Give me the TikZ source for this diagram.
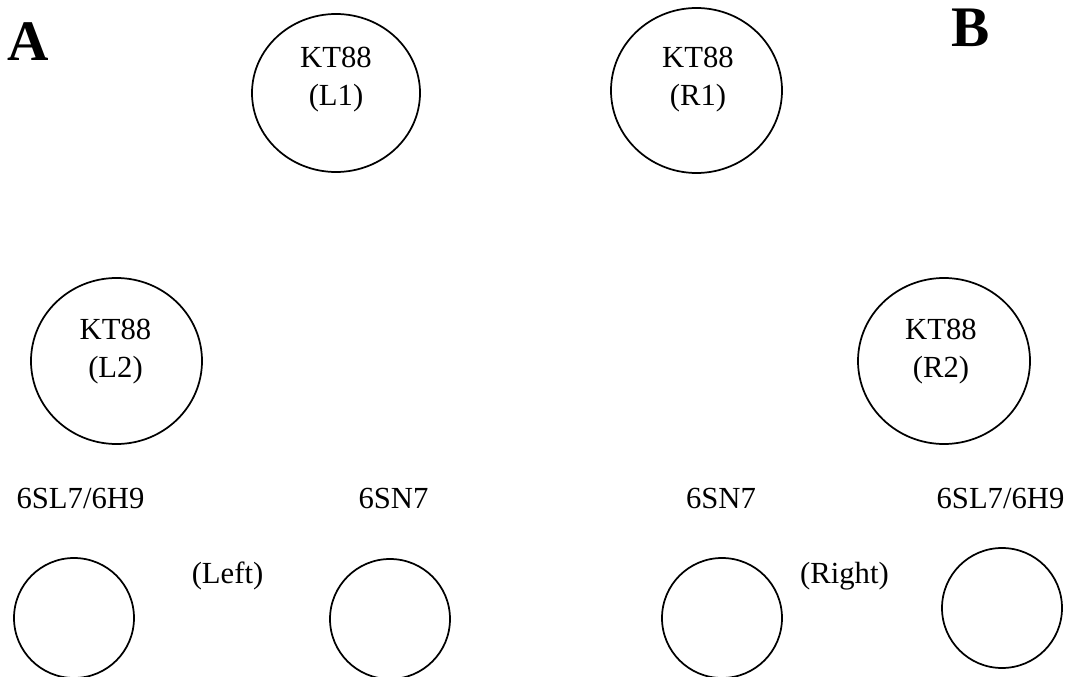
\documentclass[tikz,border=0pt]{standalone}
\usepackage{fontspec}
\setmainfont{Liberation Serif}
\usepackage{tikz}
\usetikzlibrary{shapes.geometric}
\tikzstyle{bigtube}=[draw,ellipse,line width=1.3pt,inner sep=0,outer sep=0]
\tikzstyle{smalltube}=[draw,circle,line width=1.3pt,inner sep=0,outer sep=0,minimum size=90pt]
\tikzstyle{tubename}=[align=center,inner sep=0,font=\fontsize{23}{29}\selectfont]
\tikzstyle{tubetype}=[anchor=base,inner sep=0,font=\fontsize{23}{29}\selectfont]
\tikzstyle{side}=[anchor=base,inner sep=0,font=\fontsize{43}{50}\selectfont\bfseries]

\begin{document}
\begin{tikzpicture}[x=0.75pt,y=-0.75pt]
	\useasboundingbox (0,0) rectangle (1070,677);

	% power tubes
	\node[bigtube,minimum width=126pt,minimum height=118.5pt] (l1) at (336,93) {};
	\node[bigtube,minimum width=128.25pt,minimum height=123.75pt] (r1) at (696.5,90.5) {};
	\node[bigtube,minimum width=128.25pt,minimum height=124.5pt] (l2) at (116.5,361) {};
	\node[bigtube,minimum width=129pt,minimum height=124.5pt] (r2) at (944,361) {};

	\node[tubename] (l1name) at (336,79.5) {KT88\\(L1)};
	\node[tubename] (r1name) at (698,79.5) {KT88\\(R1)};
	\node[tubename] (l2name) at (115.5,351.5) {KT88\\(L2)};
	\node[tubename] (r2name) at (941,351.5) {KT88\\(R2)};

	% driver tubes
	\node[smalltube] (ldrv) at (74,618) {};
	\node[smalltube] (lin) at (390,619) {};
	\node[smalltube] (rin) at (722,618) {};
	\node[smalltube] (rdrv) at (1002,608) {};

	\node[tubetype] (ldrvtype) at (80.5,508) {6SL7/6H9};
	\node[tubetype] (lintype) at (393.5,508) {6SN7};
	\node[tubetype] (rintype) at (721,508) {6SN7};
	\node[tubetype] (rdrvtype) at (1000.5,508) {6SL7/6H9};

	\node[tubetype] (leftside) at (227.5,583) {(Left)};
	\node[tubetype] (rightside) at (844.5,583) {(Right)};

	% corners
	\node[side] (a) at (28,61) {A};
	\node[side] (b) at (970.5,47) {B};
\end{tikzpicture}
\end{document}
